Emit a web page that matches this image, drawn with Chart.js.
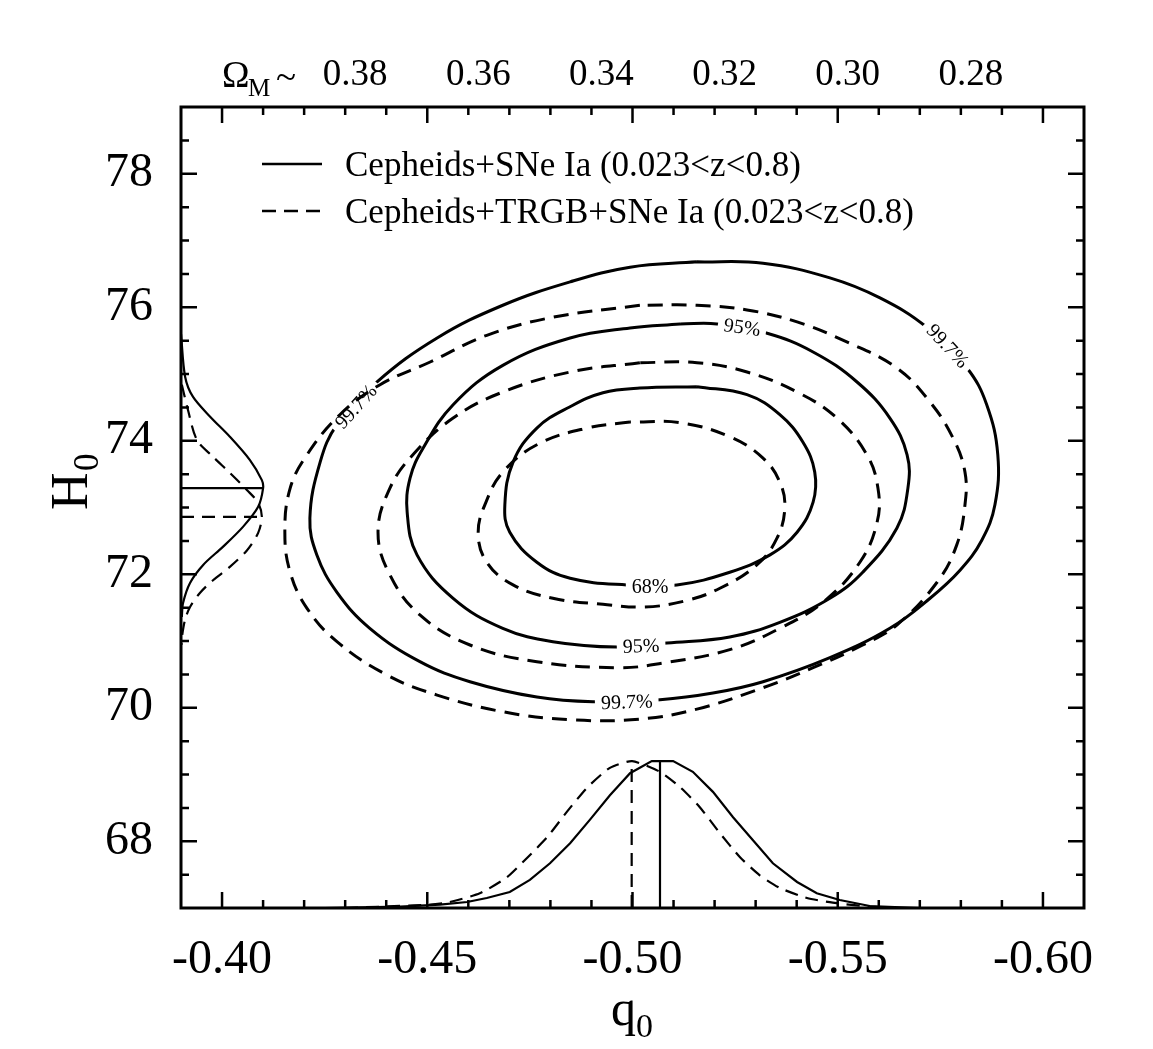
<!DOCTYPE html>
<html>
<head>
<meta charset="utf-8">
<script src="https://cdn.jsdelivr.net/npm/chart.js@4"></script>
<style>
html,body{margin:0;padding:0;background:#fff;}
#wrap{width:1153px;height:1049px;}
</style>
</head>
<body>
<div id="wrap"><canvas id="c" width="1153" height="1049"></canvas></div>
<script>
// ---------- tick labels ----------
const xTicks = [-0.40, -0.45, -0.50, -0.55, -0.60];
const yTicks = [68, 70, 72, 74, 76, 78];
const omegaTicks = [0.38, 0.36, 0.34, 0.32, 0.30, 0.28];
const legendLabels = ['Cepheids+SNe Ia (0.023<z<0.8)', 'Cepheids+TRGB+SNe Ia (0.023<z<0.8)'];

// ---------- contours [q0, H0] ----------
const solid68 = [[-0.5157,74.81],[-0.5018,74.79],[-0.4928,74.72],[-0.4848,74.51],[-0.4767,74.19],[-0.4709,73.68],[-0.4689,73.04],[-0.4701,72.63],[-0.4767,72.18],[-0.4848,71.94],[-0.4986,71.84],[-0.5108,71.84],[-0.5237,72.03],[-0.5335,72.29],[-0.5401,72.63],[-0.5440,73.08],[-0.5444,73.53],[-0.5415,73.98],[-0.5359,74.39],[-0.5279,74.69],[-0.5157,74.81]];
const dashed68 = [[-0.4994,74.28],[-0.4889,74.19],[-0.4767,73.94],[-0.4684,73.53],[-0.4645,73.11],[-0.4624,72.63],[-0.4645,72.18],[-0.4709,71.84],[-0.4806,71.64],[-0.4928,71.55],[-0.5030,71.51],[-0.5128,71.60],[-0.5213,71.79],[-0.5303,72.14],[-0.5352,72.54],[-0.5371,72.99],[-0.5359,73.38],[-0.5318,73.74],[-0.5237,74.06],[-0.5116,74.27],[-0.4994,74.28]];
const solid95 = [[-0.5116,75.75],[-0.4994,75.69],[-0.4848,75.54],[-0.4684,75.13],[-0.4563,74.54],[-0.4490,73.89],[-0.4458,73.44],[-0.4451,72.93],[-0.4475,72.29],[-0.4563,71.64],[-0.4684,71.19],[-0.4806,70.99],[-0.4962,70.91],[-0.5084,70.97],[-0.5237,71.06],[-0.5359,71.28],[-0.5481,71.64],[-0.5561,72.03],[-0.5644,72.69],[-0.5671,73.29],[-0.5669,73.79],[-0.5627,74.34],[-0.5547,74.88],[-0.5440,75.33],[-0.5328,75.61],[-0.5206,75.75],[-0.5116,75.75]];
const dashed95 = [[-0.5018,75.17],[-0.4848,75.03],[-0.4684,74.73],[-0.4563,74.34],[-0.4465,73.79],[-0.4409,73.29],[-0.4380,72.63],[-0.4409,71.99],[-0.4482,71.39],[-0.4604,70.94],[-0.4767,70.69],[-0.4969,70.60],[-0.5074,70.67],[-0.5237,70.87],[-0.5359,71.19],[-0.5464,71.58],[-0.5554,72.18],[-0.5596,72.78],[-0.5598,73.29],[-0.5571,73.79],[-0.5498,74.34],[-0.5401,74.73],[-0.5279,75.03],[-0.5157,75.17],[-0.5018,75.17]];
const solid997 = [[-0.5157,76.68],[-0.4994,76.60],[-0.4848,76.38],[-0.4684,76.03],[-0.4524,75.54],[-0.4377,74.88],[-0.4280,74.24],[-0.4239,73.68],[-0.4214,72.84],[-0.4231,72.29],[-0.4280,71.73],[-0.4360,71.19],[-0.4482,70.69],[-0.4604,70.39],[-0.4767,70.16],[-0.4904,70.09],[-0.5067,70.12],[-0.5196,70.22],[-0.5318,70.39],[-0.5481,70.75],[-0.5627,71.19],[-0.5725,71.64],[-0.5798,72.06],[-0.5851,72.51],[-0.5883,73.04],[-0.5890,73.79],[-0.5863,74.54],[-0.5815,75.09],[-0.5717,75.70],[-0.5603,76.14],[-0.5481,76.44],[-0.5318,76.66],[-0.5157,76.68]];
const dashed997 = [[-0.5018,76.03],[-0.4806,75.85],[-0.4645,75.58],[-0.4507,75.18],[-0.4385,74.84],[-0.4287,74.39],[-0.4207,73.79],[-0.4166,73.29],[-0.4153,72.63],[-0.4166,72.03],[-0.4207,71.49],[-0.4280,70.99],[-0.4402,70.49],[-0.4524,70.19],[-0.4684,69.94],[-0.4848,69.82],[-0.5018,69.83],[-0.5157,69.98],[-0.5318,70.30],[-0.5440,70.60],[-0.5561,70.94],[-0.5644,71.24],[-0.5742,71.88],[-0.5790,72.44],[-0.5810,73.04],[-0.5810,73.53],[-0.5781,74.04],[-0.5725,74.58],[-0.5644,75.09],[-0.5522,75.48],[-0.5401,75.78],[-0.5279,75.96],[-0.5157,76.03],[-0.5018,76.03]];

// ---------- marginal distributions (plotted in axis units) ----------
const margQSolid = [[-0.4250,67.00],[-0.4434,67.02],[-0.4531,67.05],[-0.4597,67.09],[-0.4645,67.15],[-0.4701,67.24],[-0.4750,67.42],[-0.4799,67.67],[-0.4848,67.97],[-0.4896,68.32],[-0.4945,68.69],[-0.4994,69.02],[-0.5047,69.20],[-0.5099,69.20],[-0.5147,69.04],[-0.5196,68.74],[-0.5245,68.36],[-0.5293,68.02],[-0.5342,67.67],[-0.5401,67.39],[-0.5449,67.22],[-0.5505,67.12],[-0.5578,67.03],[-0.5700,67.00]];
const margQDashed = [[-0.4300,67.00],[-0.4507,67.05],[-0.4548,67.08],[-0.4628,67.22],[-0.4694,67.46],[-0.4743,67.75],[-0.4792,68.06],[-0.4840,68.44],[-0.4889,68.80],[-0.4945,69.10],[-0.4999,69.20],[-0.5067,69.04],[-0.5116,68.81],[-0.5164,68.51],[-0.5213,68.12],[-0.5262,67.76],[-0.5310,67.49],[-0.5359,67.30],[-0.5425,67.15],[-0.5488,67.08],[-0.5578,67.02],[-0.5650,67.00]];
const margQSolidPeak = [[-0.5067,67.00],[-0.5067,69.20]];
const margQDashedPeak = [[-0.4998,67.00],[-0.4998,69.20]];
const margHSolid = [[-0.3900,75.60],[-0.3910,74.96],[-0.3929,74.66],[-0.3971,74.36],[-0.4019,74.06],[-0.4068,73.71],[-0.4097,73.41],[-0.4100,73.29],[-0.4088,73.01],[-0.4051,72.71],[-0.4002,72.41],[-0.3954,72.14],[-0.3922,71.87],[-0.3905,71.57],[-0.3902,71.36]];
const margHDashed = [[-0.3902,74.84],[-0.3917,74.46],[-0.3939,74.01],[-0.3978,73.76],[-0.4019,73.52],[-0.4061,73.26],[-0.4088,73.07],[-0.4097,72.86],[-0.4088,72.62],[-0.4061,72.36],[-0.4019,72.11],[-0.3978,71.91],[-0.3946,71.72],[-0.3922,71.51],[-0.3910,71.32],[-0.3903,71.09],[-0.3901,70.94]];
const margHSolidPeak = [[-0.3900,73.29],[-0.4100,73.29]];
const margHDashedPeak = [[-0.3900,72.86],[-0.4097,72.86]];

// ---------- contour labels ----------
const contourLabelText = ['68%', '95%', '99.7%', '95%', '99.7%', '99.7%'];
const contourLabelQ = [-0.5043, -0.5021, -0.4986, -0.5267, -0.5768, -0.4326];
const contourLabelH = [71.82, 70.925, 70.086, 75.70, 75.42, 74.51];
const contourLabelRot = [0, -2, -2, 8, 47, -48];

const FONT = '"Liberation Serif", "Times New Roman", serif';
const pts = a => a.map(p => ({x: p[0], y: p[1]}));
const DASH_C = [15, 9];
const DASH_M = [13, 8];

function line(data, width, dash, tension) {
  return {data: pts(data), showLine: true, borderColor: '#000', borderWidth: width,
          borderDash: dash || [], pointRadius: 0, pointHoverRadius: 0, fill: false,
          tension: tension, borderCapStyle: 'butt'};
}

const datasets = [
  line(dashed68, 3, DASH_C, 0.4),
  line(dashed95, 3, DASH_C, 0.4),
  line(dashed997, 3, DASH_C, 0.4),
  line(solid68, 3, null, 0.4),
  line(solid95, 3, null, 0.4),
  line(solid997, 3, null, 0.4),
  line(margQSolid, 2.2, null, 0),
  line(margQDashed, 2.2, DASH_M, 0.2),
  line(margQSolidPeak, 2.2, null, 0),
  line(margQDashedPeak, 2.2, DASH_M, 0),
  line(margHSolid, 2.2, null, 0.3),
  line(margHDashed, 2.2, DASH_M, 0.3),
  line(margHSolidPeak, 2.2, null, 0),
  line(margHDashedPeak, 2.2, DASH_M, 0)
];

const labelPlugin = {
  id: 'contourLabels',
  afterDatasetDraw(chart, args) {
    if (args.index !== 3) return;
    const ctx = chart.ctx, xs = chart.scales.x, ys = chart.scales.y;
    ctx.save();
    ctx.font = '20px ' + FONT;
    ctx.textAlign = 'center';
    ctx.textBaseline = 'middle';
    for (let i = 0; i < contourLabelText.length; i++) {
      const px = xs.getPixelForValue(contourLabelQ[i]);
      const py = ys.getPixelForValue(contourLabelH[i]);
      ctx.save();
      ctx.translate(px, py);
      ctx.rotate(contourLabelRot[i] * Math.PI / 180);
      const w = ctx.measureText(contourLabelText[i]).width;
      ctx.fillStyle = '#fff';
      ctx.fillRect(-w / 2 - 6, -8, w + 12, 16);
      ctx.fillStyle = '#000';
      ctx.fillText(contourLabelText[i], 0, 1);
      ctx.restore();
    }
    ctx.restore();
  }
};

const framePlugin = {
  id: 'frame',
  afterDraw(chart) {
    const ctx = chart.ctx, a = chart.chartArea, xs = chart.scales.x, ys = chart.scales.y;
    ctx.save();
    ctx.strokeStyle = '#000';
    ctx.fillStyle = '#000';
    ctx.lineWidth = 2.5;
    ctx.setLineDash([]);
    ctx.beginPath();
    for (let k = 40; k <= 60; k++) {
      const px = xs.getPixelForValue(-k / 100);
      const L = (k % 5 === 0) ? 16 : 8;
      ctx.moveTo(px, a.bottom); ctx.lineTo(px, a.bottom - L);
      ctx.moveTo(px, a.top); ctx.lineTo(px, a.top + L);
    }
    for (let k = 135; k <= 157; k++) {
      const py = ys.getPixelForValue(k / 2);
      const L = (k % 4 === 0) ? 16 : 8;
      ctx.moveTo(a.left, py); ctx.lineTo(a.left + L, py);
      ctx.moveTo(a.right, py); ctx.lineTo(a.right - L, py);
    }
    ctx.stroke();
    ctx.lineWidth = 3;
    ctx.strokeRect(a.left, a.top, a.width, a.height);

    // legend
    ctx.lineWidth = 2.5;
    ctx.beginPath(); ctx.moveTo(262, 164); ctx.lineTo(322, 164); ctx.stroke();
    ctx.setLineDash([14, 8]);
    ctx.beginPath(); ctx.moveTo(262, 211); ctx.lineTo(322, 211); ctx.stroke();
    ctx.setLineDash([]);
    ctx.font = '35px ' + FONT;
    ctx.textAlign = 'left';
    ctx.textBaseline = 'alphabetic';
    ctx.fillText(legendLabels[0], 345, 176);
    ctx.fillText(legendLabels[1], 345, 223);

    // Omega_M prefix
    ctx.font = '37px ' + FONT;
    ctx.fillText('\u03A9', 222, 87);
    ctx.font = '25px ' + FONT;
    ctx.fillText('M', 248, 96);
    ctx.font = '37px ' + FONT;
    ctx.fillText('~', 276, 89);

    // x title q0
    ctx.font = '50px ' + FONT;
    ctx.fillText('q', 611, 1025);
    ctx.font = '34px ' + FONT;
    ctx.fillText('0', 636, 1037);

    // y title H0
    ctx.save();
    ctx.translate(87, 510);
    ctx.rotate(-Math.PI / 2);
    ctx.font = '52px ' + FONT;
    ctx.fillText('H', 0, 0);
    ctx.font = '35px ' + FONT;
    ctx.fillText('0', 39, 11);
    ctx.restore();
    ctx.restore();
  }
};

new Chart(document.getElementById('c'), {
  type: 'scatter',
  data: {datasets},
  plugins: [labelPlugin, framePlugin],
  options: {
    responsive: false,
    animation: false,
    devicePixelRatio: 1,
    layout: {autoPadding: false, padding: {left: 0, right: 69, top: 0, bottom: 0}},
    plugins: {legend: {display: false}, tooltip: {enabled: false}},
    scales: {
      x: {
        type: 'linear', position: 'bottom', min: -0.61, max: -0.39, reverse: true,
        grid: {display: false}, border: {display: false},
        afterBuildTicks: s => { s.ticks = xTicks.map(v => ({value: v})); },
        afterFit: s => { s.height = 141; },
        ticks: {autoSkip: false, maxRotation: 0, minRotation: 0, padding: 16, color: '#000',
                font: {family: FONT, size: 48}, callback: v => Number(v).toFixed(2)}
      },
      x2: {
        type: 'linear', position: 'top', min: -0.61, max: -0.39, reverse: true,
        grid: {display: false}, border: {display: false},
        afterBuildTicks: s => { s.ticks = omegaTicks.map(o => ({value: 1.5 * o - 1})); },
        afterFit: s => { s.height = 107; },
        ticks: {autoSkip: false, maxRotation: 0, minRotation: 0, padding: 2, labelOffset: 10, color: '#000',
                font: {family: FONT, size: 37}, callback: (v, i) => omegaTicks[i].toFixed(2)}
      },
      y: {
        type: 'linear', position: 'left', min: 67, max: 79,
        grid: {display: false}, border: {display: false},
        afterBuildTicks: s => { s.ticks = yTicks.map(v => ({value: v})); },
        afterFit: s => { s.width = 181; },
        ticks: {autoSkip: false, padding: 20, color: '#000',
                font: {family: FONT, size: 48}, callback: v => String(v)}
      }
    }
  }
});
</script>
</body>
</html>
